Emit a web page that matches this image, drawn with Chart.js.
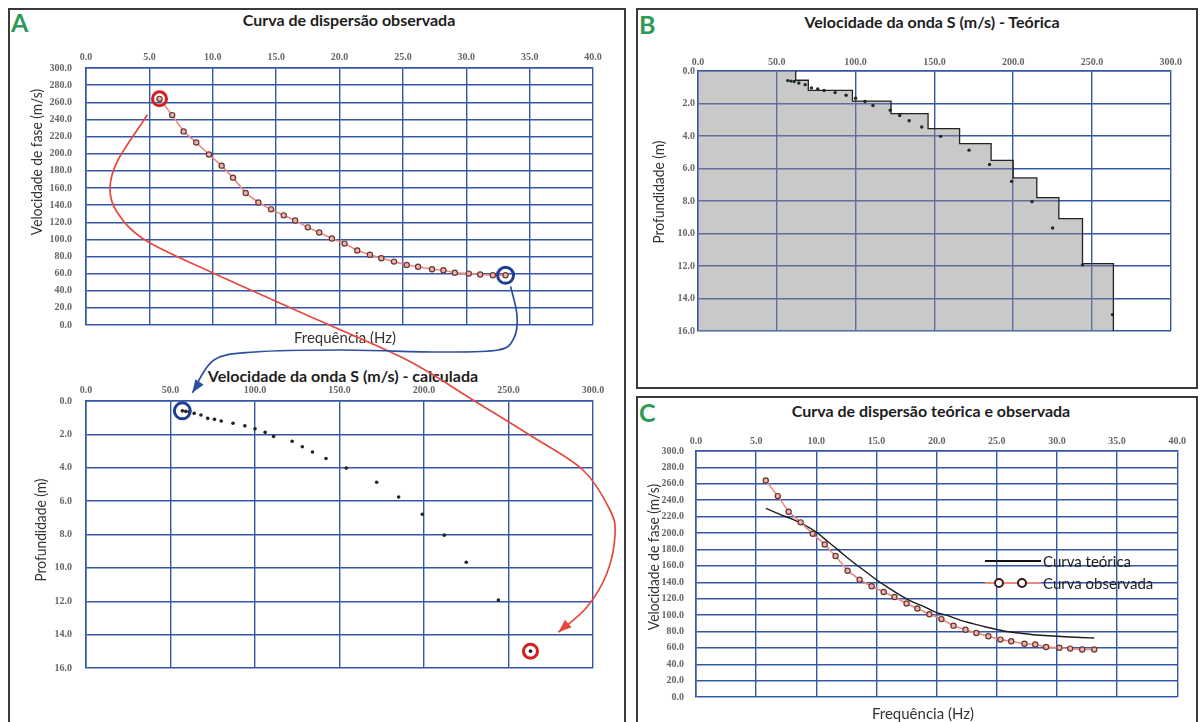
<!DOCTYPE html>
<html lang="pt">
<head>
<meta charset="UTF-8">
<title>Curvas de dispersão</title>
<script src="https://cdn.jsdelivr.net/npm/chart.js"></script>
<style>
  body { margin: 0; background: #fff; font-family: Lato, sans-serif; }
  #page { position: relative; width: 1200px; height: 722px; overflow: hidden; background: #fff; }
  .panel { position: absolute; border: 2px solid #3a3a3a; box-sizing: border-box; }
  .letter { position: absolute; font: bold 25px Lato, sans-serif; color: #2f9a58; line-height: 1; }
  .title { position: absolute; font: bold 16px Lato, sans-serif; color: #1d1d1d; transform: translate(-50%, -50%); white-space: nowrap; }
  .axt { position: absolute; font: 15px Lato, sans-serif; color: #333; white-space: nowrap; transform: translate(-50%, -50%); }
  .axt.rot { font-size: 16px; transform: translate(-50%, -50%) rotate(-90deg) scaleX(0.86); }
  .box { position: absolute; }
  .leg { position: absolute; font: 15px Lato, sans-serif; color: #222; white-space: nowrap; transform: translateY(-50%); }
  #overlay { position: absolute; left: 0; top: 0; pointer-events: none; }
</style>
</head>
<body>
<div id="page">
  <div class="panel" style="left:8px;top:8px;width:618px;height:740px"></div>
  <div class="panel" style="left:636px;top:8px;width:562px;height:381px"></div>
  <div class="panel" style="left:636px;top:396px;width:562px;height:340px"></div>

  <div class="letter" style="left:11px;top:10px">A</div>
  <div class="letter" style="left:639px;top:12px">B</div>
  <div class="letter" style="left:639px;top:400px">C</div>

  <div class="title" style="left:349px;top:19px">Curva de dispersão observada</div>
  <div class="title" style="left:343px;top:375px">Velocidade da onda S (m/s) - calculada</div>
  <div class="title" style="left:932px;top:21px">Velocidade da onda S (m/s) - Teórica</div>
  <div class="title" style="left:931px;top:410px">Curva de dispersão teórica e observada</div>

  <div class="box" style="left:20px;top:45px"><canvas id="aTop" width="590" height="300"></canvas></div>
  <div class="box" style="left:20px;top:378px"><canvas id="aBot" width="590" height="310"></canvas></div>
  <div class="box" style="left:640px;top:45px"><canvas id="bChart" width="545" height="300"></canvas></div>
  <div class="box" style="left:640px;top:425px"><canvas id="cChart" width="550" height="290"></canvas></div>

  <div class="axt rot" style="left:35px;top:162px">Velocidade de fase (m/s)</div>
  <div class="axt" style="left:345px;top:337px">Frequência (Hz)</div>
  <div class="axt rot" style="left:39px;top:530px">Profundidade (m)</div>
  <div class="axt rot" style="left:657px;top:192px">Profundidade (m)</div>
  <div class="axt rot" style="left:652px;top:557px">Velocidade de fase (m/s)</div>
  <div class="axt" style="left:923px;top:713px">Frequência (Hz)</div>

  <!-- legenda do painel C -->
  <div style="position:absolute;left:985px;top:560px;width:56px;height:2px;background:#111"></div>
  <div class="leg" style="left:1043px;top:561px">Curva teórica</div>
  <div style="position:absolute;left:985px;top:582px;width:56px;height:2px;background:#e98a80"></div>
  <div style="position:absolute;left:994px;top:578px;width:6px;height:6px;border:2px solid #3a1a18;border-radius:50%;background:#fff"></div>
  <div style="position:absolute;left:1017px;top:578px;width:6px;height:6px;border:2px solid #3a1a18;border-radius:50%;background:#fff"></div>
  <div class="leg" style="left:1043px;top:583px">Curva observada</div>

  <canvas id="overlay" width="1200" height="722"></canvas>
</div>

<script>
// --- dados: curva de dispersão observada ---
const freqObs = [5.8, 6.8, 7.7, 8.7, 9.7, 10.7, 11.6, 12.6, 13.6, 14.6, 15.6, 16.5, 17.5, 18.4, 19.4,
                 20.4, 21.4, 22.4, 23.3, 24.3, 25.3, 26.2, 27.3, 28.2, 29.1, 30.2, 31.1, 32.1, 33.1];
const velObs  = [264, 245, 226, 213, 199, 186, 172, 154, 143, 135, 128, 122, 114, 108, 101,
                 95, 87, 82, 78, 74, 70, 68, 65, 64, 61, 60, 59, 58, 58];

// --- curva teórica (painel C) ---
const freqTeo = [5.8, 7, 8, 9, 10, 11, 12, 13, 14, 15, 16, 17, 18, 19, 20, 21, 22, 23, 24, 25, 26, 27, 28, 29, 30, 31, 32, 33.1];
const velTeo  = [230, 222.5, 217, 210, 201, 189, 177, 165, 154, 143, 133, 124, 116, 110, 103, 99, 93.5, 89.5, 85.7, 82.3, 79.5, 77.8, 76, 75, 74, 73.2, 72.5, 72];

// --- velocidade da onda S calculada ---
const vsCalc    = [57, 59, 61, 64, 68, 72, 76, 80, 87, 94, 100, 106, 111, 122, 128, 134, 142, 154, 172, 185, 199, 212, 225, 244, 263];
const depthCalc = [0.59, 0.62, 0.65, 0.74, 0.84, 1.04, 1.10, 1.20, 1.33, 1.49, 1.67, 1.88, 2.12, 2.41, 2.74, 3.06,
                   3.45, 4.02, 4.87, 5.75, 6.79, 8.04, 9.66, 11.93, 14.99];

// --- perfil teórico em camadas (painel B) ---
const layerTop = [0, 0.57, 1.19, 1.85, 2.62, 3.55, 4.47, 5.5, 6.58, 7.79, 9.08, 11.85];
const layerVs  = [62, 70, 98, 122.5, 146, 166, 186, 200, 215, 229, 244, 263.6];
const maxDepth = 16;

// --- ticks ---
const freqTicks  = [0, 5, 10, 15, 20, 25, 30, 35, 40];
const velTicks   = [0, 20, 40, 60, 80, 100, 120, 140, 160, 180, 200, 220, 240, 260, 280, 300];
const vsTicks    = [0, 50, 100, 150, 200, 250, 300];
const depthTicks = [0, 2, 4, 6, 8, 10, 12, 14, 16];

const gridBlue = '#3557a6';
const obsLine = '#e98a80';

function pts(xs, ys) { return xs.map((x, i) => ({ x: x, y: ys[i] })); }

function axis(tickList, pos, size, pad, reverse) {
    return {
        type: 'linear',
        position: pos,
        min: tickList[0],
        max: tickList[tickList.length - 1],
        reverse: !!reverse,
        afterBuildTicks: s => { s.ticks = tickList.map(v => ({ value: v })); },
        afterFit: s => { if (pos === 'top') s.height = size; else s.width = size; },
        ticks: {
            callback: v => Number(v).toFixed(1),
            font: { family: 'Liberation Serif', size: 10, weight: 'bold' },
            color: '#666',
            padding: pad,
            maxRotation: 0,
            autoSkip: false
        },
        grid: { color: gridBlue, lineWidth: 1.4, drawTicks: false },
        border: { color: gridBlue, width: 1.6 }
    };
}

function baseOptions(xAxis, yAxis, padR, padB) {
    return {
        responsive: false,
        animation: false,
        devicePixelRatio: 1,
        layout: { padding: { left: 0, top: 0, right: padR, bottom: padB } },
        plugins: { legend: { display: false }, tooltip: { enabled: false } },
        scales: { x: xAxis, y: yAxis }
    };
}

function ring(x, y, color, r) {
    return {
        data: [{ x: x, y: y }], showLine: false, pointRadius: r, pointBorderWidth: 3,
        pointBorderColor: color, pointBackgroundColor: 'rgba(0,0,0,0)', clip: false
    };
}

function observedSet() {
    return {
        data: pts(freqObs, velObs), showLine: true, borderColor: obsLine, borderWidth: 1.6,
        pointRadius: 2.6, pointBorderWidth: 1.2, pointBorderColor: '#6e3530', pointBackgroundColor: '#e9b5ad'
    };
}

// --- A: curva observada ---
const last = freqObs.length - 1;
const aTop = new Chart(document.getElementById('aTop'), {
    type: 'scatter',
    data: { datasets: [
        ring(freqObs[0], velObs[0], '#d61f1f', 7),
        ring(freqObs[last], velObs[last], '#1f3f96', 8),
        observedSet()
    ] },
    options: baseOptions(axis(freqTicks, 'top', 23, 5), axis(velTicks, 'left', 66, 14), 17, 18)
});

// --- A: Vs calculada ---
const lastD = vsCalc.length - 1;
const aBot = new Chart(document.getElementById('aBot'), {
    type: 'scatter',
    data: { datasets: [
        ring(vsCalc[0], depthCalc[0], '#1f3f96', 8),
        ring(vsCalc[lastD], depthCalc[lastD], '#d61f1f', 7),
        { data: pts(vsCalc, depthCalc), pointRadius: 1.8, pointBorderWidth: 0, pointBackgroundColor: '#222' }
    ] },
    options: baseOptions(axis(vsTicks, 'top', 23, 5), axis(depthTicks, 'left', 66, 14, true), 17, 16)
});

// --- B: perfil teórico ---
const profile = [];
layerVs.forEach((v, i) => {
    profile.push({ x: v, y: layerTop[i] });
    profile.push({ x: v, y: i + 1 < layerTop.length ? layerTop[i + 1] : maxDepth });
});
// o conjunto 0 é desenhado por cima: pontos, depois a linha, e o preenchimento por baixo
const bChart = new Chart(document.getElementById('bChart'), {
    type: 'scatter',
    data: { datasets: [
        { data: pts(vsCalc, depthCalc), pointRadius: 1.7, pointBorderWidth: 0, pointBackgroundColor: '#1e2a22' },
        { data: profile, showLine: true, borderColor: '#222', borderWidth: 1.3, pointRadius: 0 },
        { data: [{ x: 0, y: 0 }].concat(profile), showLine: true, borderWidth: 0, pointRadius: 0,
          backgroundColor: 'rgba(140,140,140,0.47)', fill: { value: maxDepth } }
    ] },
    options: baseOptions(axis(vsTicks, 'top', 26, 3), axis(depthTicks, 'left', 58, 3, true), 5, 14)
});

// --- C: teórica e observada ---
const cChart = new Chart(document.getElementById('cChart'), {
    type: 'scatter',
    data: { datasets: [
        observedSet(),
        { data: pts(freqTeo, velTeo), showLine: true, borderColor: '#1c1c1c', borderWidth: 1.4,
          pointRadius: 0, cubicInterpolationMode: 'monotone' }
    ] },
    options: baseOptions(axis(freqTicks, 'top', 26, 4), axis(velTicks, 'left', 56, 12), 5, 12)
});

// --- setas entre os gráficos ---
function pagePos(chart, x, y) {
    const box = chart.canvas.parentNode;
    return [box.offsetLeft + chart.scales.x.getPixelForValue(x), box.offsetTop + chart.scales.y.getPixelForValue(y)];
}

function drawArrow(ctx, p, color) {
    ctx.strokeStyle = color;
    ctx.fillStyle = color;
    ctx.lineWidth = 1.7;
    ctx.beginPath();
    ctx.moveTo(p[0][0], p[0][1]);
    for (let i = 0; i < p.length - 1; i++) {
        const p0 = p[i - 1] || p[i], p1 = p[i], p2 = p[i + 1], p3 = p[i + 2] || p2;
        ctx.bezierCurveTo(p1[0] + (p2[0] - p0[0]) / 6, p1[1] + (p2[1] - p0[1]) / 6,
                          p2[0] - (p3[0] - p1[0]) / 6, p2[1] - (p3[1] - p1[1]) / 6, p2[0], p2[1]);
    }
    ctx.stroke();
    const a = p[p.length - 2], b = p[p.length - 1];
    const ang = Math.atan2(b[1] - a[1], b[0] - a[0]);
    ctx.beginPath();
    ctx.moveTo(b[0], b[1]);
    ctx.lineTo(b[0] - 13 * Math.cos(ang) + 5 * Math.sin(ang), b[1] - 13 * Math.sin(ang) - 5 * Math.cos(ang));
    ctx.lineTo(b[0] - 13 * Math.cos(ang) - 5 * Math.sin(ang), b[1] - 13 * Math.sin(ang) + 5 * Math.cos(ang));
    ctx.closePath();
    ctx.fill();
}

const octx = document.getElementById('overlay').getContext('2d');
const rs = pagePos(aTop, freqObs[0], velObs[0]);
const re = pagePos(aBot, vsCalc[lastD], depthCalc[lastD]);
drawArrow(octx, [[rs[0] - 12, rs[1] + 16], [118, 160], [110, 188], [117, 212], [145, 240], [213, 273], [318, 320],
                 [407, 360], [473, 400], [533, 437], [583, 470], [610, 510], [615, 535], [607, 573], [587, 607],
                 [re[0] + 28, re[1] - 19]], '#e5493d');
const bs = pagePos(aTop, freqObs[last], velObs[last]);
const be = pagePos(aBot, vsCalc[0], depthCalc[0]);
drawArrow(octx, [[bs[0] + 5, bs[1] + 11], [517, 315], [514, 338], [498, 350], [440, 352], [340, 350],
                 [255, 352], [214, 360], [be[0] + 10, be[1] - 18]], '#2c4f9f');
</script>
</body>
</html>
